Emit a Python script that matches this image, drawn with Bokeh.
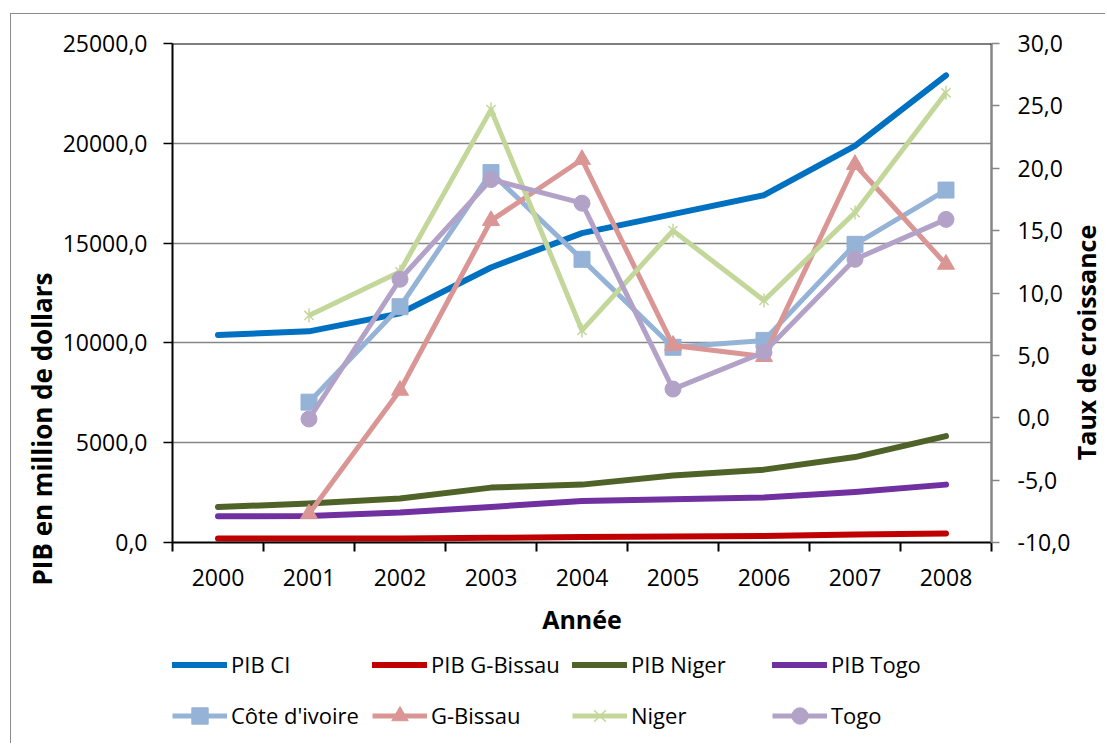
import math
from bokeh.plotting import figure
from bokeh.layouts import column, row
from bokeh.models import (Range1d, LinearAxis, FixedTicker, Legend, LegendItem,
                          Title, Span, Label, CustomJSTickFormatter)
from bokeh.embed import file_html
from bokeh.resources import INLINE

# ---------------- data ----------------
years = ["2000", "2001", "2002", "2003", "2004", "2005", "2006", "2007", "2008"]
pib_ci = [10400, 10580, 11480, 13780, 15500, 16450, 17400, 19870, 23400]
pib_gbissau = [200, 195, 200, 235, 270, 300, 330, 400, 450]
pib_niger = [1780, 1950, 2200, 2750, 2900, 3360, 3650, 4280, 5330]
pib_togo = [1315, 1330, 1500, 1780, 2080, 2165, 2250, 2530, 2900]

growth_years = years[1:]
tx_ci = [1.25, 8.9, 19.65, 12.7, 5.65, 6.2, 13.9, 18.25]
tx_gbissau = [-7.7, 2.2, 15.8, 20.7, 5.8, 4.9, 20.3, 12.3]
tx_niger = [8.2, 11.7, 24.7, 7.0, 15.0, 9.4, 16.45, 26.05]
tx_togo = [-0.1, 11.1, 19.1, 17.2, 2.3, 5.25, 12.7, 15.9]

left_ticks = [0, 5000, 10000, 15000, 20000, 25000]
right_ticks = [-10, -5, 0, 5, 10, 15, 20, 25, 30]

# category positions (centre of each year slot)
xpos = {y: i + 0.5 for i, y in enumerate(years)}
x_pib = [xpos[y] for y in years]
x_tx = [xpos[y] for y in growth_years]

FONT = "Open Sans"
GRID = "#868686"
C_PIB = {"ci": "#0070C0", "gb": "#C00000", "ni": "#4F6228", "to": "#7030A0"}
C_TX = {"ci": "#95B3D7", "gb": "#DA9694", "ni": "#C4D79B", "to": "#B3A2C7"}
LW_PIB, LW_TX = 6, 5

p = figure(frame_width=819, frame_height=499,
           x_range=Range1d(0, len(years)), y_range=Range1d(0, 25000),
           output_backend="svg", toolbar_location=None,
           min_border_left=161, min_border_right=80,
           min_border_top=29, min_border_bottom=100)
p.outline_line_color = None
p.background_fill_color = "white"
p.border_fill_color = "white"
p.extra_y_ranges = {"tx": Range1d(-10, 30)}

# ---- axes ----
fmt = CustomJSTickFormatter(code="return tick.toFixed(1).replace('.', ',');")

yax = p.yaxis[0]
yax.ticker = FixedTicker(ticks=left_ticks)
yax.formatter = fmt
yax.axis_line_color = "black"
yax.axis_line_width = 2
yax.major_tick_line_color = "black"
yax.major_tick_line_width = 1.5
yax.major_tick_in = 0
yax.major_tick_out = 9
yax.minor_tick_line_color = None
yax.major_label_text_font = FONT
yax.major_label_text_font_size = "23px"
yax.major_label_text_color = "black"
yax.major_label_standoff = 16

rax = LinearAxis(y_range_name="tx", ticker=FixedTicker(ticks=right_ticks), formatter=fmt)
rax.axis_line_color = GRID
rax.axis_line_width = 2.5
rax.major_tick_line_color = GRID
rax.major_tick_line_width = 1.5
rax.major_tick_in = 0
rax.major_tick_out = 8
rax.minor_tick_line_color = None
rax.major_label_text_font = FONT
rax.major_label_text_font_size = "23px"
rax.major_label_text_color = "black"
rax.major_label_standoff = 18
p.add_layout(rax, "right")

xax = p.xaxis[0]
xax.ticker = FixedTicker(ticks=x_pib, minor_ticks=list(range(len(years) + 1)))
xax.major_label_overrides = {xpos[y]: y for y in years}
xax.axis_line_color = "black"
xax.axis_line_width = 2
xax.major_tick_in = 0
xax.major_tick_out = 0
xax.major_tick_line_color = None
xax.minor_tick_in = 0
xax.minor_tick_out = 9
xax.minor_tick_line_color = "black"
xax.minor_tick_line_width = 2
xax.major_label_text_font = FONT
xax.major_label_text_font_size = "23px"
xax.major_label_text_color = "black"
xax.major_label_standoff = 17
xax.axis_label = "Année"
xax.axis_label_text_font = FONT
xax.axis_label_text_font_size = "25px"
xax.axis_label_text_font_style = "bold"
xax.axis_label_text_color = "black"
xax.axis_label_standoff = 13

p.xgrid.grid_line_color = None
p.ygrid.ticker = FixedTicker(ticks=left_ticks)
p.ygrid.grid_line_color = GRID
p.ygrid.grid_line_width = 1.5

p.add_layout(Span(location=25000, dimension="width", line_color="black", line_width=2))

# ---- left axis title, placed lower as in the original ----
p.add_layout(Title(text="PIB en million de dollars", align="left", offset=-43,
                   text_font=FONT, text_font_size="26px", text_font_style="bold",
                   text_color="black", standoff=0), "left")


def pib_line(fig, xs, ys, key):
    return fig.line(xs, ys, line_color=C_PIB[key], line_width=LW_PIB,
                    line_cap="round", line_join="round")


def growth(fig, xs, ys, key, marker, size, yr=None):
    extra = {"y_range_name": yr} if yr else {}
    c = C_TX[key]
    rs = [fig.line(xs, ys, line_color=c, line_width=LW_TX, line_join="round", **extra)]
    if marker == "star":
        rs.append(fig.scatter(xs, ys, marker="x", size=size, line_color=c, line_width=1.5, **extra))
        rs.append(fig.scatter(xs, ys, marker="dash", size=size + 1, angle=math.pi / 2,
                              line_color=c, line_width=1.5, **extra))
    else:
        rs.append(fig.scatter(xs, ys, marker=marker, size=size, fill_color=c, line_color=c, **extra))
    return rs


# ---- PIB lines (left axis) ----
pib_line(p, x_pib, pib_ci, "ci")
pib_line(p, x_pib, pib_gbissau, "gb")
pib_line(p, x_pib, pib_niger, "ni")
pib_line(p, x_pib, pib_togo, "to")

# ---- growth rates (right axis) ----
growth(p, x_tx, tx_ci, "ci", "square", 16, "tx")
growth(p, x_tx, tx_gbissau, "gb", "triangle", 17, "tx")
growth(p, x_tx, tx_niger, "ni", "star", 13, "tx")
growth(p, x_tx, tx_togo, "to", "circle", 16, "tx")

# ---- right-hand title strip ----
pr = figure(width=29, height=628, output_backend="svg", toolbar_location=None,
            x_axis_location=None, y_axis_location=None,
            min_border_left=0, min_border_right=0, min_border_top=29, min_border_bottom=100,
            x_range=Range1d(0, 1), y_range=Range1d(0, 1))
pr.grid.visible = False
pr.outline_line_color = None
pr.border_fill_color = "white"
pr.add_layout(Label(x=12, y=200, x_units="screen", y_units="screen",
                    text="Taux de croissance", angle=math.pi / 2,
                    text_align="center", text_baseline="middle", text_line_height=1.0,
                    text_font=FONT, text_font_size="25px", text_font_style="bold",
                    text_color="black"))

# ---- legend strip (separate small figure; its series sit outside its view) ----
pl = figure(width=1094, height=101, output_backend="svg", toolbar_location=None,
            x_axis_location=None, y_axis_location=None,
            min_border_left=161, min_border_right=0, min_border_top=0, min_border_bottom=0,
            x_range=Range1d(1000, 1001), y_range=Range1d(100000, 100001))
pl.grid.visible = False
pl.outline_line_color = None
pl.border_fill_color = "white"

lg = {
    "PIB CI": [pib_line(pl, x_pib, pib_ci, "ci")],
    "PIB G-Bissau": [pib_line(pl, x_pib, pib_gbissau, "gb")],
    "PIB Niger": [pib_line(pl, x_pib, pib_niger, "ni")],
    "PIB Togo": [pib_line(pl, x_pib, pib_togo, "to")],
    "Côte d'ivoire": growth(pl, x_tx, tx_ci, "ci", "square", 16),
    "G-Bissau": growth(pl, x_tx, tx_gbissau, "gb", "triangle", 17),
    "Niger": growth(pl, x_tx, tx_niger, "ni", "star", 13),
    "Togo": growth(pl, x_tx, tx_togo, "to", "circle", 16),
}
leg = Legend(items=[LegendItem(label=k, renderers=v) for k, v in lg.items()],
             location=(0, 7.5), orientation="horizontal", ncols=4,
             glyph_width=55, glyph_height=41, label_height=41, label_width=131,
             label_standoff=4, spacing=10, padding=0, margin=0,
             border_line_color=None, background_fill_alpha=0,
             label_text_font=FONT, label_text_font_size="22px",
             label_text_color="black")
pl.add_layout(leg, "center")

page = column(row(p, pr, spacing=0), pl, spacing=0)
page.margin = (13, 0, 0, 10)
page.styles = {"border-top": "1px solid #8c8c8c", "border-left": "1px solid #8c8c8c"}

open("out.html", "w").write(file_html(page, INLINE))
